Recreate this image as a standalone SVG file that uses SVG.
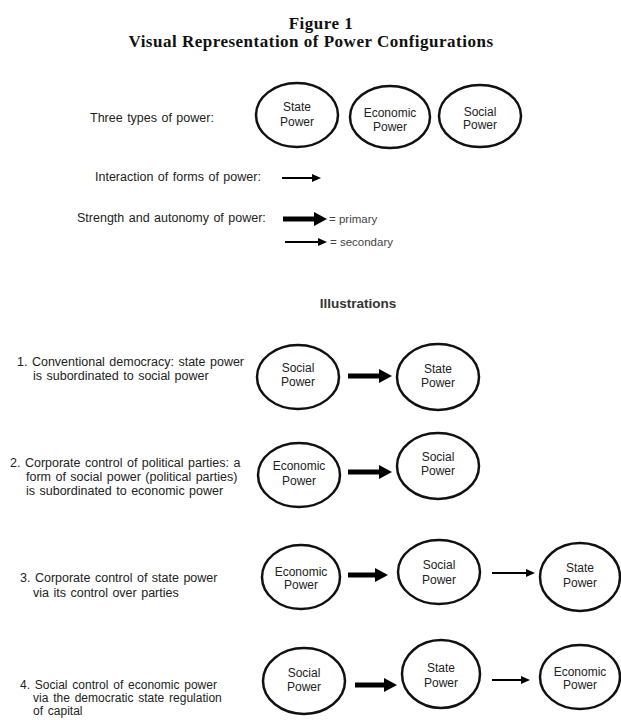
<svg xmlns="http://www.w3.org/2000/svg" width="621" height="720" viewBox="0 0 621 720">
<style>
.title{font-family:"Liberation Serif","Times New Roman",serif;font-weight:bold;font-size:17px;fill:#111;text-anchor:middle;letter-spacing:0.5px}
.lbl{font-family:"Liberation Sans",Arial,sans-serif;font-size:12.5px;fill:#222;word-spacing:1px}
.lbl4{font-family:"Liberation Sans",Arial,sans-serif;font-size:12px;fill:#222;word-spacing:1.5px}
.small{font-family:"Liberation Sans",Arial,sans-serif;font-size:11.5px;fill:#444}
.head{font-family:"Liberation Sans",Arial,sans-serif;font-size:13.5px;font-weight:bold;fill:#333;text-anchor:middle}
.node ellipse{fill:#fff;stroke:#111;stroke-width:2.5}
.node text{font-family:"Liberation Sans",Arial,sans-serif;font-size:12px;fill:#222;text-anchor:middle}
.thick{stroke:#000;stroke-width:5;marker-end:url(#hThick)}
.thin{stroke:#000;stroke-width:2;marker-end:url(#hThin)}
</style>
<defs>
<marker id="hThick" markerWidth="13" markerHeight="14" refX="0" refY="7" orient="auto" markerUnits="userSpaceOnUse"><path d="M0,0 L13,7 L0,14 z" fill="#000"/></marker>
<marker id="hThin" markerWidth="9" markerHeight="8" refX="0" refY="4" orient="auto" markerUnits="userSpaceOnUse"><path d="M0,0 L9,4 L0,8 z" fill="#000"/></marker>
</defs>
<rect width="621" height="720" fill="#fff"/>
<g id="title">
<text class="title" x="321" y="29">Figure 1</text>
<text class="title" x="311" y="47">Visual Representation of Power Configurations</text>
</g>
<g id="legend">
<text class="lbl" x="90" y="122">Three types of power:</text>
<text class="lbl" x="95" y="181">Interaction of forms of power:</text>
<text class="lbl" x="77" y="222">Strength and autonomy of power:</text>
<text class="small" x="329" y="223">= primary</text>
<text class="small" x="330" y="246">= secondary</text>
<text class="head" x="358" y="308">Illustrations</text>
</g>
<g id="captions">
<text class="lbl" x="17" y="366">1. Conventional democracy: state power</text>
<text class="lbl" x="33" y="380">is subordinated to social power</text>
<text class="lbl" x="10" y="467">2. Corporate control of political parties: a</text>
<text class="lbl" x="26" y="481">form of social power (political parties)</text>
<text class="lbl" x="26" y="495">is subordinated to economic power</text>
<text class="lbl" x="20" y="582">3. Corporate control of state power</text>
<text class="lbl" x="33" y="597">via its control over parties</text>
<text class="lbl4" x="20" y="689">4. Social control of economic power</text>
<text class="lbl4" x="33" y="702">via the democratic state regulation</text>
<text class="lbl4" x="33" y="715">of capital</text>
</g>
<g id="n-top-state" class="node"><ellipse cx="297" cy="115" rx="41" ry="32"/><text x="297" y="111">State</text><text x="297" y="126">Power</text></g>
<g id="n-top-economic" class="node"><ellipse cx="390" cy="117" rx="40" ry="31"/><text x="390" y="117">Economic</text><text x="390" y="131">Power</text></g>
<g id="n-top-social" class="node"><ellipse cx="480" cy="116" rx="41" ry="31"/><text x="480" y="116">Social</text><text x="480" y="129">Power</text></g>

<g id="n1-social" class="node"><ellipse cx="298" cy="377" rx="41" ry="32"/><text x="298" y="372">Social</text><text x="298" y="386">Power</text></g>
<g id="n1-state" class="node"><ellipse cx="438" cy="377" rx="41" ry="33"/><text x="438" y="373">State</text><text x="438" y="387">Power</text></g>

<g id="n2-economic" class="node"><ellipse cx="299" cy="475" rx="41" ry="32"/><text x="299" y="470">Economic</text><text x="299" y="485">Power</text></g>
<g id="n2-social" class="node"><ellipse cx="438" cy="466" rx="41" ry="33"/><text x="438" y="461">Social</text><text x="438" y="475">Power</text></g>

<g id="n3-economic" class="node"><ellipse cx="301" cy="577" rx="39" ry="32"/><text x="301" y="576">Economic</text><text x="301" y="589">Power</text></g>
<g id="n3-social" class="node"><ellipse cx="439" cy="572" rx="41" ry="32"/><text x="439" y="569">Social</text><text x="439" y="584">Power</text></g>
<g id="n3-state" class="node"><ellipse cx="580" cy="577" rx="40" ry="34"/><text x="580" y="572">State</text><text x="580" y="587">Power</text></g>

<g id="n4-social" class="node"><ellipse cx="304" cy="681" rx="41" ry="33"/><text x="304" y="677">Social</text><text x="304" y="691">Power</text></g>
<g id="n4-state" class="node"><ellipse cx="441" cy="674" rx="39" ry="34"/><text x="441" y="672">State</text><text x="441" y="687">Power</text></g>
<g id="n4-economic" class="node"><ellipse cx="580" cy="677" rx="40" ry="32"/><text x="580" y="676">Economic</text><text x="580" y="689">Power</text></g>

<g id="connectors">
<line class="thin" x1="282" y1="178" x2="312" y2="178"/>
<line class="thick" x1="283" y1="219" x2="314" y2="219"/>
<line class="thin" x1="285" y1="242" x2="318" y2="242"/>
<line class="thick" x1="348" y1="376" x2="379" y2="376"/>
<line class="thick" x1="348" y1="472" x2="379" y2="472"/>
<line class="thick" x1="348" y1="575" x2="375" y2="575"/>
<line class="thin" x1="492" y1="573" x2="526" y2="573"/>
<line class="thick" x1="355" y1="685" x2="384" y2="685"/>
<line class="thin" x1="492" y1="680" x2="521" y2="680"/>
</g>
</svg>
